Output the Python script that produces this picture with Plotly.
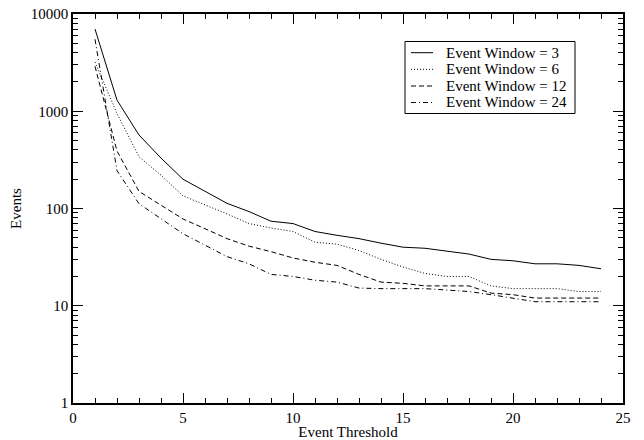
import plotly.graph_objects as go

# Event counts per threshold for each event window size
thresholds = list(range(1, 25))
window_labels = ["Event Window = 3", "Event Window = 6", "Event Window = 12", "Event Window = 24"]
events_w3 = [7000, 1300, 570, 330, 200, 150, 113, 93, 74, 70, 58, 53, 49, 44, 40, 39, 36.5, 34, 30, 29, 27, 27, 26, 24]
events_w6 = [3200, 950, 340, 220, 135, 110, 88, 70, 63, 58, 45, 43, 37, 30, 25, 21.5, 20, 20, 16, 15, 15, 15, 14, 14]
events_w12 = [2900, 390, 150, 108, 78, 62, 49, 41, 36, 31, 28, 26, 21, 17.5, 17, 16, 16, 16, 13.5, 13, 12, 12, 12, 12]
events_w24 = [5500, 245, 112, 78, 55, 42, 32, 27, 21, 20, 18.3, 17.5, 15.2, 15, 15, 15, 14.5, 14, 13, 12, 11, 11, 11, 11]

series = [events_w3, events_w6, events_w12, events_w24]
dashes = ["solid", "1px,2px", "5px,3px", "5px,3px,1px,3px"]

FONT = "'Times New Roman', 'Liberation Serif', 'DejaVu Serif', serif"
W, H = 644, 440
L, R, T, B = 73, 21, 14, 37
PW, PH = W - L - R, H - T - B

fig = go.Figure()
for name, ys, dash in zip(window_labels, series, dashes):
    fig.add_trace(go.Scatter(
        x=thresholds, y=ys, mode="lines", name=name,
        line=dict(color="black", width=1, dash=dash),
        showlegend=False,
    ))

# Hand-drawn legend box in the upper right
def px_x(px):
    return (px - L) / PW

def px_y(py):
    return (H - B - py) / PH

shapes = [dict(type="rect", xref="paper", yref="paper",
               x0=px_x(405), x1=px_x(575), y0=px_y(113.5), y1=px_y(41.5),
               line=dict(color="black", width=1), fillcolor="white", layer="above")]
annotations = []
row_y = [52.7, 69.3, 86.0, 102.5]
for name, dash, yy in zip(window_labels, dashes, row_y):
    shapes.append(dict(type="line", xref="paper", yref="paper",
                       x0=px_x(411), x1=px_x(433), y0=px_y(yy), y1=px_y(yy),
                       line=dict(color="black", width=1, dash=dash), layer="above"))
    annotations.append(dict(xref="paper", yref="paper", x=px_x(444), y=px_y(yy),
                            xanchor="left", yanchor="middle", text=name, showarrow=False,
                            font=dict(family=FONT, size=15, color="black")))

# Minor ticks at 2..9 within each decade
log_minor = [m * 10 ** k for k in range(4) for m in range(2, 10)]

axis_common = dict(
    showline=True, linecolor="black", linewidth=1.5, mirror="allticks",
    ticks="inside", ticklen=10, tickwidth=1, tickcolor="black",
    showgrid=False, zeroline=False, automargin=False,
    tickfont=dict(family=FONT, size=15, color="black"),
)

fig.update_layout(
    width=W, height=H,
    margin=dict(l=L, r=R, t=T, b=B),
    paper_bgcolor="white", plot_bgcolor="white",
    font=dict(family=FONT, color="black"),
    shapes=shapes, annotations=annotations,
    xaxis=dict(
        range=[0, 25], tickvals=[0, 5, 10, 15, 20, 25],
        minor=dict(dtick=1, ticks="inside", ticklen=5, tickcolor="black", showgrid=False),
        title=dict(text="Event Threshold", font=dict(family=FONT, size=15, color="black"), standoff=0),
        **axis_common,
    ),
    yaxis=dict(
        type="log", range=[0, 4],
        tickvals=[1, 10, 100, 1000, 10000], ticktext=["1", "10", "100", "1000", "10000"],
        minor=dict(tickvals=log_minor, ticks="inside", ticklen=5, tickcolor="black", showgrid=False),
        title=dict(text="Events", font=dict(family=FONT, size=15, color="black"), standoff=6),
        **axis_common,
    ),
)

fig.write_html("out.html")
